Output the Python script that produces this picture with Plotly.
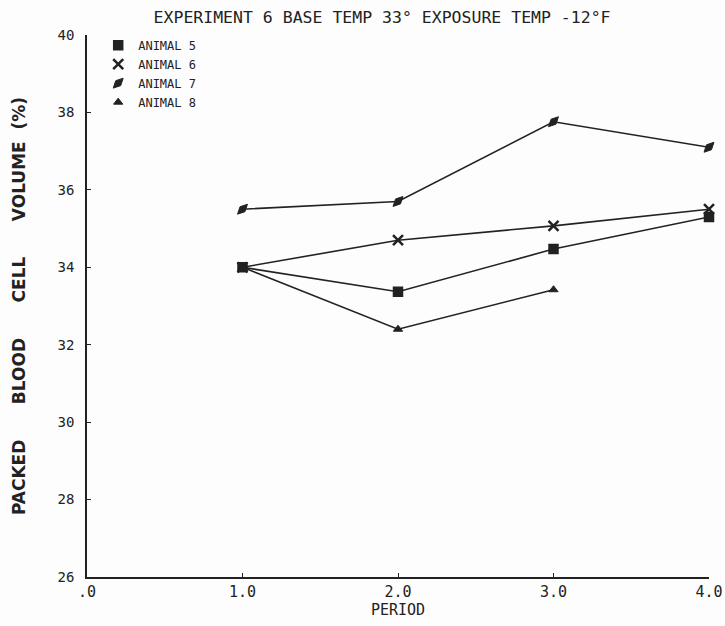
import plotly.graph_objects as go

period = [1.0, 2.0, 3.0, 4.0]
animal5 = [34.0, 33.37, 34.47, 35.3]
animal6 = [34.0, 34.7, 35.07, 35.5]
animal7 = [35.5, 35.7, 37.76, 37.1]
animal8 = [34.0, 32.4, 33.42]

series = [
    ("ANIMAL 5", period, animal5, dict(symbol="square-x", size=9, color="#222", line=dict(color="#222", width=1.5))),
    ("ANIMAL 6", period, animal6, dict(symbol="x-thin-open", size=10, color="#222", line=dict(color="#222", width=2.5))),
    ("ANIMAL 7", period, animal7, dict(symbol="diamond-wide", size=10, angle=-45, color="#222", line=dict(color="#222", width=1))),
    ("ANIMAL 8", period[:3], animal8, dict(symbol="triangle-up", size=8, color="#222", line=dict(color="#222", width=1))),
]

fig = go.Figure()
for name, xs, ys, mk in series:
    fig.add_trace(go.Scatter(
        x=xs, y=ys, name=name, mode="lines+markers", showlegend=False,
        line=dict(color="#222", width=1.6), marker=mk, cliponaxis=False,
    ))
for name, xs, ys, mk in series:
    fig.add_trace(go.Scatter(
        x=[None], y=[None], name=name, mode="markers", showlegend=True,
        marker=mk,
    ))

mono = "DejaVu Sans Mono"
fig.update_layout(
    width=725, height=626,
    margin=dict(l=87, r=16, t=35, b=49),
    paper_bgcolor="#fdfdfd", plot_bgcolor="#fdfdfd",
    title=dict(text="EXPERIMENT 6 BASE TEMP 33° EXPOSURE TEMP -12°F",
               x=0.527, xanchor="center", y=0.9728, yanchor="middle",
               font=dict(family=mono, size=16.5, color="#222")),
    legend=dict(x=0.018, y=1.008, xanchor="left", yanchor="top",
                bgcolor="rgba(0,0,0,0)", font=dict(family=mono, size=12, color="#222"),
                itemwidth=30, tracegroupgap=0),
    showlegend=True,
)
fig.update_xaxes(
    range=[0, 4], tickvals=[0, 1, 2, 3, 4], ticktext=[".0", "1.0", "2.0", "3.0", "4.0"],
    showline=True, linecolor="#222", linewidth=1.5, showgrid=False, zeroline=False,
    ticks="inside", ticklen=4, tickcolor="#222", automargin=False,
    tickfont=dict(family=mono, size=15, color="#222"),
    title=dict(text="PERIOD", font=dict(family=mono, size=15, color="#222"), standoff=2),
)
fig.update_yaxes(
    range=[26, 40], tickvals=[26, 28, 30, 32, 34, 36, 38, 40],
    showline=True, linecolor="#222", linewidth=1.5, showgrid=False, zeroline=False,
    ticks="inside", ticklen=4, tickcolor="#222", automargin=False, ticklabelstandoff=8,
    tickfont=dict(family=mono, size=14, color="#222"),
    title=dict(text="PACKED      BLOOD      CELL      VOLUME  (%)",
               font=dict(family="DejaVu Sans", size=17, color="#222", weight="bold"), standoff=28),
)
fig.write_html("out.html", config={"displayModeBar": False},
               post_script="document.body.style.margin='0';document.body.style.background='#fdfdfd';")
